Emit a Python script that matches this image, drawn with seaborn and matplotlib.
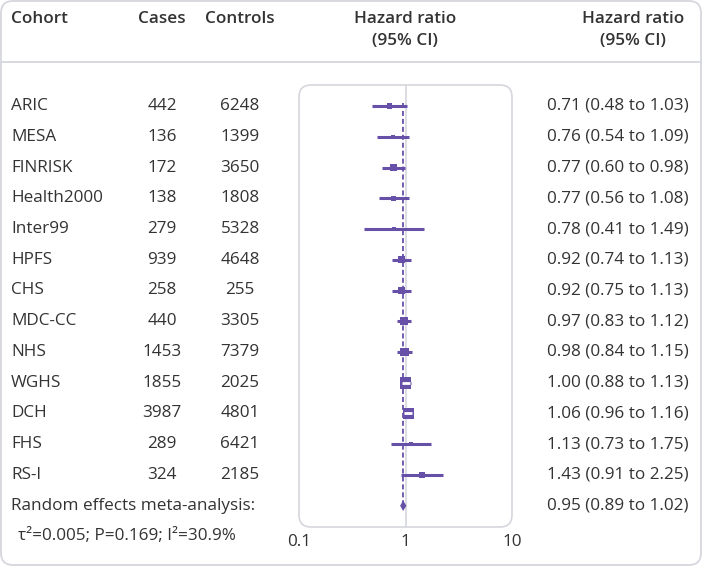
import numpy as np
import pandas as pd
import matplotlib
matplotlib.use("Agg")
import matplotlib.pyplot as plt
import matplotlib.transforms as mtransforms
from matplotlib.patches import FancyBboxPatch
import seaborn as sns

# data
cohorts = ["ARIC", "MESA", "FINRISK", "Health2000", "Inter99", "HPFS", "CHS",
           "MDC-CC", "NHS", "WGHS", "DCH", "FHS", "RS-I"]
cases = [442, 136, 172, 138, 279, 939, 258, 440, 1453, 1855, 3987, 289, 324]
controls = [6248, 1399, 3650, 1808, 5328, 4648, 255, 3305, 7379, 2025, 4801, 6421, 2185]
hr = [0.71, 0.76, 0.77, 0.77, 0.78, 0.92, 0.92, 0.97, 0.98, 1.00, 1.06, 1.13, 1.43]
ci_lo = [0.48, 0.54, 0.60, 0.56, 0.41, 0.74, 0.75, 0.83, 0.84, 0.88, 0.96, 0.73, 0.91]
ci_hi = [1.03, 1.09, 0.98, 1.08, 1.49, 1.13, 1.13, 1.12, 1.15, 1.13, 1.16, 1.75, 2.25]
# study weights (%) estimated from the square sizes
weights = [4.1, 2.6, 5.9, 4.1, 1.5, 8.0, 8.0, 10.5, 10.5, 19.9, 18.1, 2.6, 4.1]

meta_hr, meta_lo, meta_hi = 0.95, 0.89, 1.02
meta_label = "Random effects meta-analysis:"
meta_stats = "τ²=0.005; P=0.169; I²=30.9%"
x_ticks = [0.1, 1, 10]
x_ticklabels = ["0.1", "1", "10"]

PURPLE = "#6751a8"
TEXT = "#333333"
GRID = "#d6d7de"
W, H = 702, 566

sns.set_theme(style="white")
plt.rcParams["font.family"] = ["Open Sans", "DejaVu Sans"]

df = pd.DataFrame({"cohort": cohorts, "hr": hr, "lo": ci_lo, "hi": ci_hi,
                   "weight": weights})
df["row"] = np.arange(len(df))
meta_row = len(df)

fig = plt.figure(figsize=(W / 100, H / 100), dpi=100)

# background layer in pixel units for frames and header
bg = fig.add_axes([0, 0, 1, 1])
bg.set_xlim(0, W)
bg.set_ylim(H, 0)
bg.axis("off")
bg.add_patch(FancyBboxPatch((1, 1), W - 2, H - 2,
                            boxstyle="round,pad=0,rounding_size=12",
                            fc="white", ec=GRID, lw=1.3))
bg.plot([1, W - 1], [62, 62], color=GRID, lw=1.3)
bg.add_patch(FancyBboxPatch((299, 85), 213, 442,
                            boxstyle="round,pad=0,rounding_size=12",
                            fc="white", ec=GRID, lw=1.2))

fs = 12.3
hdr = dict(fontsize=fs, fontweight="semibold", color=TEXT, va="center")
bg.text(11, 19, "Cohort", ha="left", **hdr)
bg.text(162, 19, "Cases", ha="center", **hdr)
bg.text(240, 19, "Controls", ha="center", **hdr)
bg.text(405, 19, "Hazard ratio", ha="center", **hdr)
bg.text(405, 41, "(95% CI)", ha="center", **hdr)
bg.text(633, 19, "Hazard ratio", ha="center", **hdr)
bg.text(633, 41, "(95% CI)", ha="center", **hdr)

# forest panel
ax = fig.add_axes([299 / W, 1 - 527 / H, 213 / W, 442 / H])
ax.patch.set_alpha(0)
ax.set_xscale("log")
ax.set_xlim(0.1, 10)
step = 30.75
ax.set_ylim((527 - 106) / step, (85 - 106) / step)
for s in ax.spines.values():
    s.set_visible(False)

ax.axvline(1, color=GRID, lw=1.2, zorder=1)
ax.vlines(meta_hr, -0.1, meta_row, color=PURPLE, lw=1.3,
          linestyles=(0, (2.8, 1.6)), zorder=2)
ax.hlines(df["row"], df["lo"], df["hi"], color=PURPLE, lw=2.2,
          capstyle="butt", zorder=3)
sns.scatterplot(data=df, x="hr", y="row", size="weight", sizes=(0, 70),
                size_norm=(0, 20), marker="s", color=PURPLE, linewidth=0,
                legend=False, ax=ax, zorder=4)
# large boxes that cover their CI show it as a white bar inside
big = df[df["weight"] > 15]
ax.scatter(big["hr"], big["row"], marker="_", s=28, color="white",
           linewidths=2.0, zorder=5)
# pooled estimate diamond
ax.fill([meta_lo, meta_hr, meta_hi, meta_hr],
        [meta_row, meta_row - 0.17, meta_row, meta_row + 0.17],
        color=PURPLE, lw=0, zorder=4)

ax.set_xticks(x_ticks)
ax.set_xticklabels(x_ticklabels)
ax.xaxis.set_minor_locator(matplotlib.ticker.NullLocator())
ax.tick_params(axis="x", length=0, pad=5, labelsize=fs, labelcolor=TEXT)
ax.set_yticks([])
ax.set_xlabel("")
ax.set_ylabel("")

# table text, rows aligned with the forest axis
tr = mtransforms.blended_transform_factory(bg.transData, ax.transData)
row_txt = dict(fontsize=fs, color=TEXT, va="center", transform=tr)
for i, r in df.iterrows():
    bg.text(11, r["row"], cohorts[i], ha="left", **row_txt)
    bg.text(162, r["row"], str(cases[i]), ha="center", **row_txt)
    bg.text(240, r["row"], str(controls[i]), ha="center", **row_txt)
    bg.text(547, r["row"], f"{hr[i]:.2f} ({ci_lo[i]:.2f} to {ci_hi[i]:.2f})",
            ha="left", **row_txt)
bg.text(11, meta_row, meta_label, ha="left", **row_txt)
bg.text(18, meta_row + 1, meta_stats, ha="left", **row_txt)
bg.text(547, meta_row, f"{meta_hr:.2f} ({meta_lo:.2f} to {meta_hi:.2f})",
        ha="left", **row_txt)

fig.savefig("out.png", dpi=100)
